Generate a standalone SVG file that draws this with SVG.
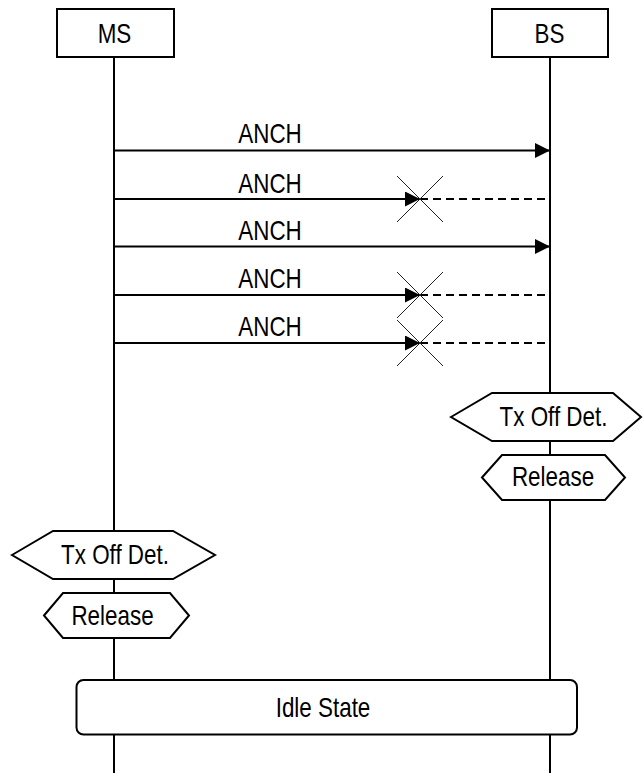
<svg xmlns="http://www.w3.org/2000/svg" width="643" height="773" viewBox="0 0 643 773">
<style>
.t{font-family:"Liberation Sans",Arial,sans-serif;font-size:27px;fill:#000;text-anchor:middle}
.box{fill:#fff;stroke:#000;stroke-width:2}
.life{stroke:#000;stroke-width:2;fill:none}
.msg{stroke:#000;stroke-width:2;fill:none}
.lost{stroke:#000;stroke-width:2;fill:none;stroke-dasharray:8 5}
.x{stroke:#222;stroke-width:1;fill:none}
</style>
<defs>
<marker id="ah" markerUnits="userSpaceOnUse" markerWidth="16" markerHeight="16" refX="15" refY="7.5" orient="auto">
<path d="M0,0 L15,7.5 L0,15 z" fill="#000"/>
</marker>
</defs>
<rect width="643" height="773" fill="#fff"/>
<g id="lifelines">
<line class="life" x1="114" y1="57" x2="114" y2="773"/>
<line class="life" x1="550" y1="57" x2="550" y2="773"/>
</g>
<g id="MS">
<rect class="box" x="57" y="9" width="117" height="48"/>
<text class="t" transform="matrix(0.83 0 0 1 114.5 42.5)">MS</text>
</g>
<g id="BS">
<rect class="box" x="492" y="9" width="116" height="48"/>
<text class="t" transform="matrix(0.83 0 0 1 549.5 42.5)">BS</text>
</g>
<g id="connectors">
<line class="msg" x1="114" y1="150.5" x2="550" y2="150.5" marker-end="url(#ah)"/>
<text class="t" transform="matrix(0.83 0 0 1 270 143)">ANCH</text>
<line class="msg" x1="114" y1="199" x2="420" y2="199" marker-end="url(#ah)"/>
<line class="lost" x1="420" y1="199" x2="550" y2="199"/>
<path class="x" d="M397,176 L443,222 M443,176 L397,222"/>
<text class="t" transform="matrix(0.83 0 0 1 270 192.5)">ANCH</text>
<line class="msg" x1="114" y1="246.5" x2="550" y2="246.5" marker-end="url(#ah)"/>
<text class="t" transform="matrix(0.83 0 0 1 270 240)">ANCH</text>
<line class="msg" x1="114" y1="295" x2="420" y2="295" marker-end="url(#ah)"/>
<line class="lost" x1="420" y1="295" x2="550" y2="295"/>
<path class="x" d="M397,272 L443,318 M443,272 L397,318"/>
<text class="t" transform="matrix(0.83 0 0 1 270 288)">ANCH</text>
<line class="msg" x1="114" y1="343" x2="420" y2="343" marker-end="url(#ah)"/>
<line class="lost" x1="420" y1="343" x2="550" y2="343"/>
<path class="x" d="M397,320 L443,366 M443,320 L397,366"/>
<text class="t" transform="matrix(0.83 0 0 1 270 336)">ANCH</text>
</g>
<g id="BS_TxOffDet">
<polygon class="box" points="451,417 492,393 613,393 641,417 613,441 492,441"/>
<text class="t" transform="matrix(0.83 0 0 1 553.5 426)">Tx Off Det.</text>
</g>
<g id="BS_Release">
<polygon class="box" points="482,477.5 502,455 605,455 625,477.5 605,500 502,500"/>
<text class="t" transform="matrix(0.83 0 0 1 553 486)">Release</text>
</g>
<g id="MS_TxOffDet">
<polygon class="box" points="12,555 53,531 173,531 215,555 173,579 53,579"/>
<text class="t" transform="matrix(0.83 0 0 1 115 564)">Tx Off Det.</text>
</g>
<g id="MS_Release">
<polygon class="box" points="44,615.5 63,593 170,593 189,615.5 170,638 63,638"/>
<text class="t" transform="matrix(0.83 0 0 1 112.5 624.5)">Release</text>
</g>
<g id="IdleState">
<rect class="box" x="76.5" y="680" width="500.5" height="54.5" rx="7" ry="7"/>
<text class="t" transform="matrix(0.83 0 0 1 323 716.5)">Idle State</text>
</g>
</svg>
